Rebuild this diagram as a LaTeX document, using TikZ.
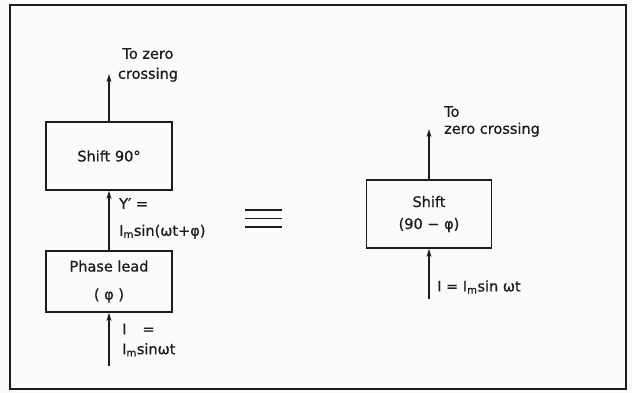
\documentclass[tikz,border=0pt]{standalone}
\usepackage{fontspec}
\setmainfont{DejaVu Sans}[FakeBold=0.7]
\usetikzlibrary{arrows.meta,calc,positioning}
\definecolor{scanInk}{HTML}{1C1C1C}
\definecolor{scanPaper}{HTML}{FAFAF8}

\begin{document}
\begin{tikzpicture}[x=1pt, y=-1pt, every node/.style={font=\fontsize{14.5}{17}\selectfont, text=scanInk, inner sep=0pt},
    blockbox/.style={draw=scanInk, line width=1.7pt, minimum width=126pt, align=center},
    feed/.style={-{Stealth[length=8pt,width=5pt]}, line width=1.5pt, draw=scanInk}]
    \fill[scanPaper] (0,0) rectangle (632,393);
    \useasboundingbox (0,0) rectangle (632,393);
    \draw[scanInk, line width=1.7pt] (10,5) rectangle (626,389);

    % left chain
    \node[blockbox, minimum height=68pt] (shiftA) at (109,156) {Shift 90°};
    \node[blockbox, minimum height=61pt] (lead) at (109,281.5) {Phase lead\\[11pt]( φ )};
    \coordinate[above=47pt of shiftA.north] (outA);
    \coordinate[below=53pt of lead.south] (inA);
    \foreach \a/\b in {inA/lead.south,lead.north/shiftA.south,shiftA.north/outA}
      \draw[feed] (\a) -- (\b);

    \node[align=center] (zeroA) at (148,65) {To zero\\[3pt]crossing};
    \node[align=left, anchor=west] (volt) at (119,218.5) {Y′ =\\[10pt]I\textsubscript{m}sin(ωt+φ)};
    \node[align=left, anchor=west] (currA) at (122,340) {I\hspace{16pt}=\\[3pt]I\textsubscript{m}sinωt};

    % equivalence sign
    \node[minimum width=37pt, minimum height=17pt] (equiv) at (263.5,218.5) {};
    \foreach \f in {0,0.5,1}
      \draw[scanInk, line width=1.8pt] ($(equiv.north west)!\f!(equiv.south west)$) -- ($(equiv.north east)!\f!(equiv.south east)$);

    % right block
    \node[blockbox, minimum width=125pt, minimum height=68pt] (shiftB) at (429,214) {Shift\\[5pt](90 − φ)};
    \coordinate[above=50pt of shiftB.north] (outB);
    \coordinate[below=50pt of shiftB.south] (inB);
    \foreach \a/\b in {inB/shiftB.south,shiftB.north/outB}
      \draw[feed] (\a) -- (\b);

    \node[align=left, anchor=west] (zeroB) at (444,121.5) {To\\[0pt]zero crossing};
    \node[anchor=west] (currB) at (437,287) {I = I\textsubscript{m}sin ωt};
\end{tikzpicture}
\end{document}
